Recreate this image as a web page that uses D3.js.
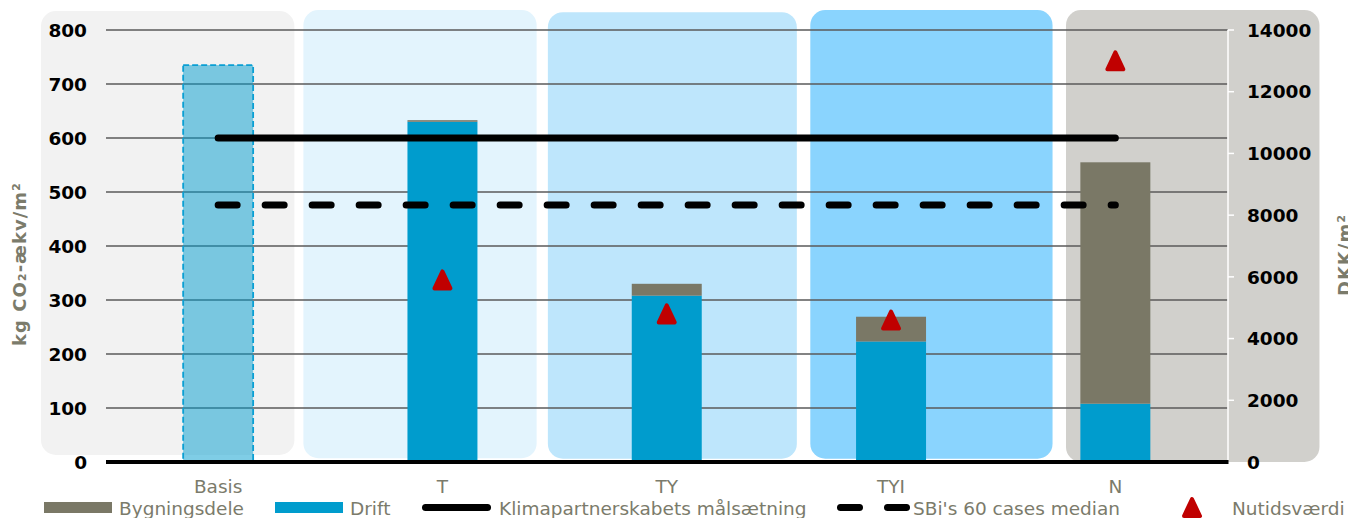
<!DOCTYPE html>
<html>
<head>
<meta charset="utf-8">
<script src="https://cdn.jsdelivr.net/npm/d3@7"></script>
<style>
  html, body { margin: 0; padding: 0; background: #ffffff; }
  svg { display: block; }
  text { font-family: "DejaVu Sans", Verdana, sans-serif; }
</style>
</head>
<body>
<svg id="chart" width="1348" height="518"></svg>
<script>
// ---------- data ----------
const categories = ["Basis", "T", "TY", "TYI", "N"];
const basis = [735, null, null, null, null];
const drift = [null, 630, 308, 223, 108];
const bygningsdele = [null, 3, 22, 46, 447];
const klimapartnerskab = [600, 600, 600, 600, 600];
const sbiMedian = [476, 476, 476, 476, 476];
const nutidsvaerdi = [null, 5900, 4800, 4600, 13000]; // DKK/m2 (right axis)
const leftTicks = [0, 100, 200, 300, 400, 500, 600, 700, 800];
const rightTicks = [0, 2000, 4000, 6000, 8000, 10000, 12000, 14000];
// background panels: span in category-index units, top/bottom in left-axis units
const panelFrom = [-0.79, 0.38, 1.47, 2.64, 3.78];
const panelTo = [0.34, 1.42, 2.58, 3.72, 4.91];
const panelTop = [835, 837, 833, 837, 837];
const panelBottom = [13, 7, 6, 6, 0];
const panelColors = ["#f2f2f2", "#e3f4fd", "#bee6fc", "#8ad4fe", "#d1d0cc"];
const legendLabels = ["Bygningsdele", "Drift", "Klimapartnerskabets målsætning", "SBi's 60 cases median", "Nutidsværdi"];

// ---------- layout ----------
const svg = d3.select("#chart");
const plotL = 106, plotR = 1227.5, plotT = 30, plotB = 462;
const textGray = "#7b7b6b";
const colBygn = "#7a7866", colDrift = "#009ccd", colTri = "#c00000";

const x = d3.scaleBand().domain(categories).range([plotL, plotR])
  .paddingInner(0.688).paddingOuter(0.344);
const xIdx = d3.scaleLinear().domain([-0.5, 4.5]).range([plotL, plotR]);
const cx = c => x(c) + x.bandwidth() / 2;
const y = d3.scaleLinear().domain([0, 800]).range([plotB, plotT]);
const y2 = d3.scaleLinear().domain([0, 14000]).range([plotB, plotT]);

// panels
svg.append("g").selectAll("rect").data(categories).join("rect")
  .attr("x", (d, i) => xIdx(panelFrom[i]))
  .attr("width", (d, i) => xIdx(panelTo[i]) - xIdx(panelFrom[i]))
  .attr("y", (d, i) => y(panelTop[i]))
  .attr("height", (d, i) => y(panelBottom[i]) - y(panelTop[i]))
  .attr("rx", 15).attr("ry", 15)
  .attr("fill", (d, i) => panelColors[i]);

// gridlines
svg.append("g").selectAll("line").data(leftTicks.filter(t => t > 0)).join("line")
  .attr("x1", plotL).attr("x2", plotR)
  .attr("y1", d => y(d)).attr("y2", d => y(d))
  .attr("stroke", "#5a5a5a").attr("stroke-width", 1.4);

// bars
const bars = svg.append("g");
bars.selectAll("rect.basis").data(categories.filter((c, i) => basis[i] != null)).join("rect")
  .attr("class", "basis")
  .attr("x", d => x(d)).attr("width", x.bandwidth())
  .attr("y", d => y(basis[categories.indexOf(d)]))
  .attr("height", d => y(0) - y(basis[categories.indexOf(d)]))
  .attr("fill", colDrift).attr("fill-opacity", 0.5)
  .attr("stroke", "#0a9fd3").attr("stroke-width", 1.8)
  .attr("stroke-dasharray", "6 3");
const stackIdx = categories.map((c, i) => i).filter(i => drift[i] != null);
bars.selectAll("rect.drift").data(stackIdx).join("rect")
  .attr("x", i => x(categories[i])).attr("width", x.bandwidth())
  .attr("y", i => y(drift[i])).attr("height", i => y(0) - y(drift[i]))
  .attr("fill", colDrift);
bars.selectAll("rect.bygn").data(stackIdx).join("rect")
  .attr("x", i => x(categories[i])).attr("width", x.bandwidth())
  .attr("y", i => y(drift[i] + bygningsdele[i]))
  .attr("height", i => y(drift[i]) - y(drift[i] + bygningsdele[i]))
  .attr("fill", colBygn);

// zero line
svg.append("line").attr("x1", plotL).attr("x2", plotR + 1)
  .attr("y1", y(0)).attr("y2", y(0))
  .attr("stroke", "#000").attr("stroke-width", 4);

// right axis white line + ticks
const ra = svg.append("g");
ra.append("line").attr("x1", plotR + 0.5).attr("x2", plotR + 0.5)
  .attr("y1", y2(14000)).attr("y2", y2(0) - 2)
  .attr("stroke", "#fff").attr("stroke-width", 1.5);
ra.selectAll("line.t").data(rightTicks.filter(t => t > 0)).join("line")
  .attr("class", "t")
  .attr("x1", plotR + 0.5).attr("x2", plotR + 6.5)
  .attr("y1", d => y2(d)).attr("y2", d => y2(d))
  .attr("stroke", "#fff").attr("stroke-width", 1.5);

// lines
const lineGen = d3.line().x((d, i) => cx(categories[i])).y(d => y(d));
svg.append("path").attr("d", lineGen(klimapartnerskab))
  .attr("fill", "none").attr("stroke", "#000").attr("stroke-width", 7)
  .attr("stroke-linecap", "round");
svg.append("path").attr("d", lineGen(sbiMedian))
  .attr("fill", "none").attr("stroke", "#000").attr("stroke-width", 7)
  .attr("stroke-linecap", "round").attr("stroke-dasharray", "19 28");

// triangle markers
const triPath = "M0,-8.5L8,8.5L-8,8.5Z";
svg.append("g").selectAll("path").data(categories.map((c, i) => i).filter(i => nutidsvaerdi[i] != null)).join("path")
  .attr("transform", i => `translate(${cx(categories[i])},${y2(nutidsvaerdi[i])})`)
  .attr("d", triPath)
  .attr("fill", colTri).attr("stroke", colTri).attr("stroke-width", 4)
  .attr("stroke-linejoin", "round");

// left axis labels
svg.append("g").selectAll("text").data(leftTicks).join("text")
  .attr("x", 87).attr("y", d => y(d)).attr("dy", "0.36em")
  .attr("text-anchor", "end").attr("font-size", 18.5).attr("font-weight", "bold")
  .attr("fill", "#000").text(d => d);

// right axis labels
svg.append("g").selectAll("text").data(rightTicks).join("text")
  .attr("x", 1247).attr("y", d => y2(d)).attr("dy", "0.36em")
  .attr("text-anchor", "start").attr("font-size", 18.5).attr("font-weight", "bold")
  .attr("fill", "#000").text(d => d);

// axis titles
svg.append("text").attr("transform", "translate(26,264) rotate(-90)")
  .attr("text-anchor", "middle").attr("font-size", 18).attr("font-weight", "bold")
  .attr("letter-spacing", 1).attr("fill", textGray).text("kg CO₂-ækv/m²");
svg.append("text").attr("transform", "translate(1351,255) rotate(-90)")
  .attr("text-anchor", "middle").attr("font-size", 18).attr("font-weight", "bold")
  .attr("letter-spacing", 1).attr("fill", textGray).text("DKK/m²");

// category labels
svg.append("g").selectAll("text").data(categories).join("text")
  .attr("x", d => cx(d)).attr("y", 493)
  .attr("text-anchor", "middle").attr("font-size", 18.5)
  .attr("fill", textGray).text(d => d);

// legend
const lg = svg.append("g");
const lgY = 507.5, lgText = 515;
lg.append("rect").attr("x", 44).attr("y", 502).attr("width", 68).attr("height", 11).attr("fill", colBygn);
lg.append("rect").attr("x", 275).attr("y", 502).attr("width", 68).attr("height", 11).attr("fill", colDrift);
lg.append("line").attr("x1", 425.5).attr("x2", 487.5).attr("y1", lgY).attr("y2", lgY)
  .attr("stroke", "#000").attr("stroke-width", 7).attr("stroke-linecap", "round");
lg.append("line").attr("x1", 840.5).attr("x2", 908.5).attr("y1", lgY).attr("y2", lgY)
  .attr("stroke", "#000").attr("stroke-width", 7).attr("stroke-linecap", "round")
  .attr("stroke-dasharray", "19 28");
lg.append("path").attr("transform", `translate(1192,${lgY})`).attr("d", triPath)
  .attr("fill", colTri).attr("stroke", colTri).attr("stroke-width", 4).attr("stroke-linejoin", "round");
const lgTextX = [119, 350, 499, 913, 1232];
lg.selectAll("text").data(legendLabels).join("text")
  .attr("x", (d, i) => lgTextX[i]).attr("y", lgText)
  .attr("font-size", 18.5).attr("fill", textGray).text(d => d);
</script>
</body>
</html>
